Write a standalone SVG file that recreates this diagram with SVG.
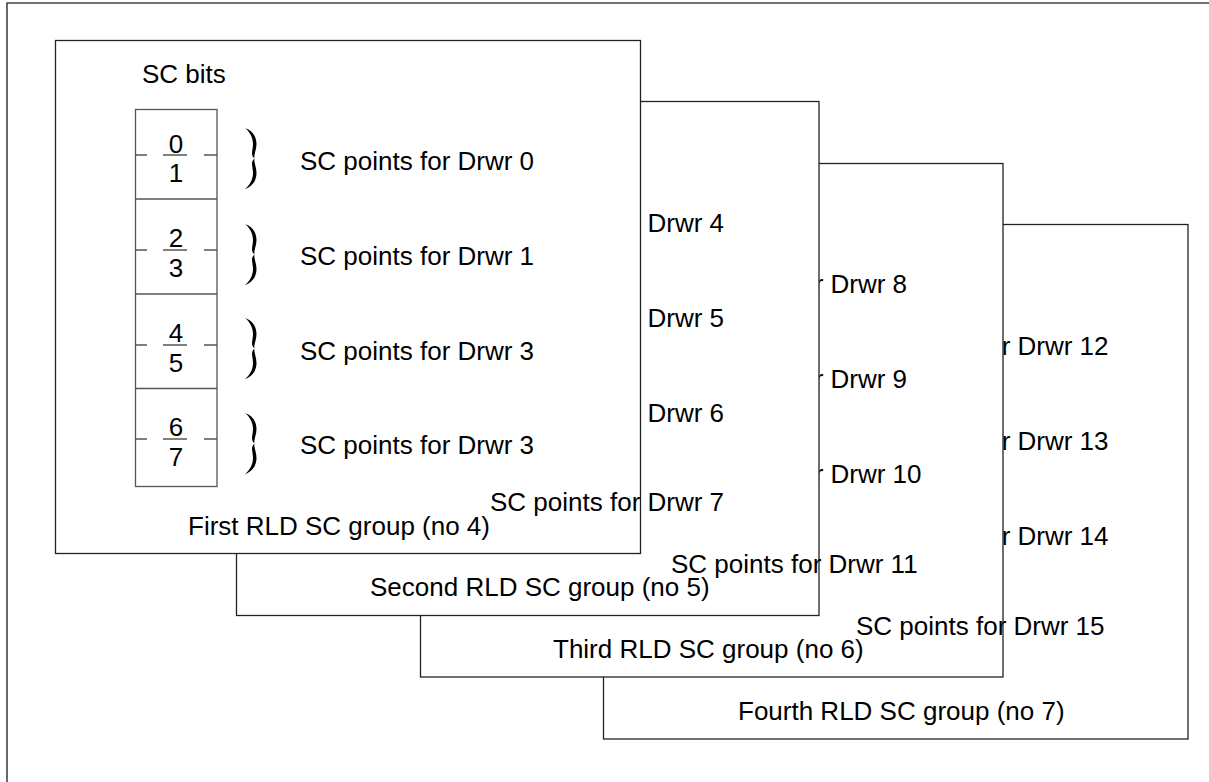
<svg xmlns="http://www.w3.org/2000/svg" width="1209" height="782" viewBox="0 0 1209 782">
<style>
.box{fill:#fff;stroke:#222;stroke-width:1.3}
.t{font-family:"Liberation Sans",Arial,Helvetica,sans-serif;font-size:26px;fill:#000}
.d{text-anchor:middle}
.ln{stroke:#555;stroke-width:1.3;fill:none}
.br{fill:#000}
</style>
<defs>
<path id="brace" d="M0,0 C8,3 11.5,9 11.5,16 C11.5,22 8.5,27 9.5,30.5 C8.5,34 11.5,39 11.5,45 C11.5,52 8,58 0,61 C5,57 8,51 8,45 C8,39 5,34 9.5,30.5 C5,27 8,22 8,16 C8,10 5,4 0,0 Z"/>
</defs>
<rect width="1209" height="782" fill="#fff"/>
<g id="frame">
<path class="ln" d="M7,782 V3 H1209" style="stroke:#444;stroke-width:1.6"/>
</g>
<g id="group4">
<rect class="box" x="603.5" y="224.5" width="584.5" height="514.5"/>
<text class="t" x="860" y="355">SC points for Drwr 12</text>
<text class="t" x="860" y="450">SC points for Drwr 13</text>
<text class="t" x="860" y="545">SC points for Drwr 14</text>
</g>
<g id="group3">
<rect class="box" x="420.5" y="163.5" width="582.5" height="513.5"/>
<text class="t" x="673" y="293">SC points for Drwr 8</text>
<text class="t" x="673" y="388">SC points for Drwr 9</text>
<text class="t" x="673" y="483">SC points for Drwr 10</text>
</g>
<g id="group2">
<rect class="box" x="236.5" y="101.5" width="582.5" height="514"/>
<text class="t" x="490" y="232">SC points for Drwr 4</text>
<text class="t" x="490" y="327">SC points for Drwr 5</text>
<text class="t" x="490" y="422">SC points for Drwr 6</text>
</g>
<g id="group1">
<rect class="box" x="55.5" y="40.5" width="585" height="513"/>
<text class="t" x="142" y="83">SC bits</text>
<g id="bits-table">
<rect class="ln" x="135.5" y="109.5" width="81.5" height="377"/>
<path class="ln" d="M135.5,199 H217 M135.5,294 H217 M135.5,388.5 H217"/>
<path class="ln" d="M135.5,155 H147 M163,155 H187 M204,155 H217 M135.5,250 H147 M163,250 H187 M204,250 H217 M135.5,345 H147 M163,345 H187 M204,345 H217 M135.5,439 H147 M163,439 H187 M204,439 H217"/>
<text class="t d" x="176" y="153">0</text>
<text class="t d" x="176" y="182">1</text>
<text class="t d" x="176" y="247">2</text>
<text class="t d" x="176" y="277">3</text>
<text class="t d" x="176" y="342">4</text>
<text class="t d" x="176" y="372">5</text>
<text class="t d" x="176" y="436">6</text>
<text class="t d" x="176" y="466">7</text>
</g>
<use href="#brace" class="br" x="245" y="128"/>
<use href="#brace" class="br" x="245" y="224"/>
<use href="#brace" class="br" x="245" y="318"/>
<use href="#brace" class="br" x="245" y="413"/>
<text class="t" x="300" y="170">SC points for Drwr 0</text>
<text class="t" x="300" y="265">SC points for Drwr 1</text>
<text class="t" x="300" y="360">SC points for Drwr 3</text>
<text class="t" x="300" y="454">SC points for Drwr 3</text>
<text class="t" x="188" y="535">First RLD SC group (no 4)</text>
</g>
<g id="top-labels">
<text class="t" x="490" y="511">SC points for Drwr 7</text>
<text class="t" x="370" y="596">Second RLD SC group (no 5)</text>
<text class="t" x="671" y="573">SC points for Drwr 11</text>
<text class="t" x="553" y="658">Third RLD SC group (no 6)</text>
<text class="t" x="856" y="635">SC points for Drwr 15</text>
<text class="t" x="738" y="720">Fourth RLD SC group (no 7)</text>
</g>
</svg>
